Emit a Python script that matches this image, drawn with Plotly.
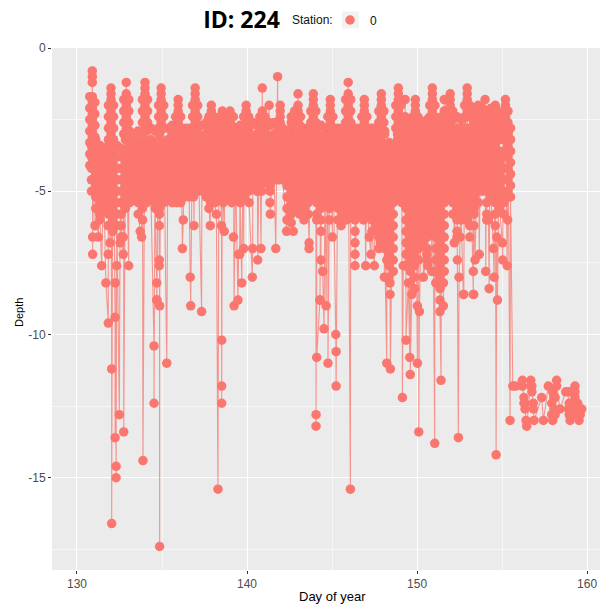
import plotly.graph_objects as go

# Main band of repeated dives: one time stamp (day) with the depths logged around it
column_days = [130.85,131.1,131.35,131.6,131.85,132.1,132.35,132.6,132.85,133.1,133.35,133.6,133.85,134.1,134.35,134.6,134.85,135.1,135.35,135.6,135.85,136.1,136.35,136.6,136.85,137.1,137.35,137.6,137.85,138.1,138.35,138.6,138.85,139.1,139.35,139.6,139.85,140.1,140.35,140.6,140.85,141.1,141.35,141.6,141.85,142.1,142.35,142.6,142.85,143.1,143.35,143.6,143.85,144.1,144.35,144.6,144.85,145.1,145.35,145.6,145.85,146.1,146.35,146.6,146.85,147.1,147.35,147.6,147.85,148.1,148.35,148.6,148.85,149.1,149.35,149.6,149.85,150.1,150.35,150.6,150.85,151.1,151.35,151.6,151.85,152.1,152.35,152.6,152.85,153.1,153.35,153.6,153.85,154.1,154.35,154.6,154.85,155.1,155.35,155.5]
column_depths = [
 [-3.4,-3.8,-4.2,-4.6,-5.0],
 [-3.2,-3.6,-4.0,-4.4,-4.8,-5.2,-5.6],
 [-3.4,-3.8,-4.2,-4.6,-5.0,-5.4,-5.8,-6.0],
 [-3.6,-4.0,-4.4,-4.8,-5.2,-5.6],
 [-3.4,-3.8,-4.2,-4.6,-5.0,-5.4,-5.8,-6.2],
 [-3.2,-3.6,-4.0,-4.4,-4.8,-5.2,-5.6,-6.0,-6.4],
 [-3.4,-3.8,-4.2,-4.6,-5.0,-5.4,-5.8,-6.2],
 [-3.5,-3.8,-4.2,-4.6,-5.0,-5.4,-5.8,-6.2,-6.6],
 [-3.2,-3.6,-4.0,-4.4,-4.8,-5.2,-5.6],
 [-2.9,-3.4,-3.8,-4.2,-4.6,-5.0,-5.4],
 [-3.0,-3.2,-3.6,-4.0,-4.4,-4.8,-5.2],
 [-2.9,-3.4,-3.8,-4.2,-4.6,-5.0,-5.4,-5.8],
 [-3.0,-3.2,-3.6,-4.0,-4.4,-4.8,-5.2,-5.6],
 [-2.9,-3.4,-3.8,-4.2,-4.6,-5.0,-5.4],
 [-2.8,-3.2,-3.6,-4.0,-4.4,-4.8,-5.2],
 [-2.9,-3.4,-3.8,-4.2,-4.6,-5.0,-5.4,-5.6],
 [-3.0,-3.2,-3.6,-4.0,-4.4,-4.8,-5.2,-5.6,-5.8],
 [-2.8,-3.4,-3.8,-4.2,-4.6,-5.0,-5.4],
 [-2.8,-3.2,-3.6,-4.0,-4.4,-4.8,-5.2],
 [-2.7,-3.0,-3.4,-3.8,-4.2,-4.6,-5.0,-5.4],
 [-2.8,-3.2,-3.6,-4.0,-4.4,-4.8,-5.2,-5.4],
 [-2.8,-3.0,-3.4,-3.8,-4.2,-4.6,-5.0,-5.4],
 [-2.8,-3.2,-3.6,-4.0,-4.4,-4.8,-5.2],
 [-2.8,-3.0,-3.4,-3.8,-4.2,-4.6,-5.0,-5.2],
 [-2.8,-3.2,-3.6,-4.0,-4.4,-4.8,-5.2],
 [-2.7,-3.0,-3.4,-3.8,-4.2,-4.6,-5.0],
 [-2.7,-3.2,-3.6,-4.0,-4.4,-4.8,-5.0],
 [-2.6,-3.0,-3.4,-3.8,-4.2,-4.6,-5.0,-5.2],
 [-2.8,-3.2,-3.6,-4.0,-4.4,-4.8,-5.2,-5.4],
 [-2.6,-3.0,-3.4,-3.8,-4.2,-4.6,-5.0,-5.4],
 [-2.7,-3.2,-3.6,-4.0,-4.4,-4.8,-5.2],
 [-2.6,-3.0,-3.4,-3.8,-4.2,-4.6,-5.0,-5.4],
 [-2.8,-3.2,-3.6,-4.0,-4.4,-4.8,-5.2],
 [-2.7,-3.0,-3.4,-3.8,-4.2,-4.6,-5.0,-5.4],
 [-2.8,-3.2,-3.6,-4.0,-4.4,-4.8,-5.2],
 [-2.7,-3.0,-3.4,-3.8,-4.2,-4.6,-5.0,-5.4],
 [-2.8,-3.2,-3.6,-4.0,-4.4,-4.8,-5.2],
 [-2.7,-3.0,-3.4,-3.8,-4.2,-4.6,-5.0],
 [-2.6,-3.2,-3.6,-4.0,-4.4,-4.8],
 [-2.7,-3.0,-3.4,-3.8,-4.2,-4.6,-5.0],
 [-2.6,-3.2,-3.6,-4.0,-4.4,-4.8],
 [-2.6,-3.0,-3.4,-3.8,-4.2,-4.6],
 [-2.7,-3.2,-3.6,-4.0,-4.4,-4.8,-5.0],
 [-2.6,-3.0,-3.4,-3.8,-4.2,-4.6],
 [-2.8,-3.2,-3.6,-4.0,-4.4,-4.6],
 [-2.8,-3.0,-3.4,-3.8,-4.2,-4.6],
 [-3.0,-3.2,-3.6,-4.0,-4.4,-4.8,-5.2,-5.6,-6.0],
 [-2.8,-3.0,-3.4,-3.8,-4.2,-4.6,-5.0,-5.4,-5.8,-6.1],
 [-2.7,-3.2,-3.6,-4.0,-4.4,-4.8,-5.2,-5.6],
 [-2.7,-3.0,-3.4,-3.8,-4.2,-4.6,-5.0,-5.4,-5.8],
 [-2.8,-3.2,-3.6,-4.0,-4.4,-4.8,-5.2,-5.6,-6.0],
 [-2.8,-3.0,-3.4,-3.8,-4.2,-4.6,-5.0,-5.4,-5.8],
 [-2.8,-3.2,-3.6,-4.0,-4.4,-4.8,-5.2],
 [-2.8,-3.0,-3.4,-3.8,-4.2,-4.6,-5.0,-5.4,-5.8,-6.0],
 [-2.7,-3.2,-3.6,-4.0,-4.4,-4.8,-5.2,-5.6,-6.0,-6.4],
 [-2.8,-3.0,-3.4,-3.8,-4.2,-4.6,-5.0,-5.4],
 [-2.8,-3.2,-3.6,-4.0,-4.4,-4.8,-5.2,-5.6,-6.0],
 [-2.8,-3.0,-3.4,-3.8,-4.2,-4.6,-5.0,-5.4],
 [-2.8,-3.2,-3.6,-4.0,-4.4,-4.8,-5.2,-5.6,-6.0],
 [-2.8,-3.0,-3.4,-3.8,-4.2,-4.6,-5.0,-5.4,-5.8],
 [-2.8,-3.2,-3.6,-4.0,-4.4,-4.8,-5.2,-5.6,-6.0],
 [-2.8,-3.0,-3.4,-3.8,-4.2,-4.6,-5.0,-5.4,-5.8],
 [-2.8,-3.2,-3.6,-4.0,-4.4,-4.8,-5.2,-5.6,-6.0,-6.4],
 [-2.8,-3.0,-3.4,-3.8,-4.2,-4.6,-5.0,-5.4,-5.8],
 [-2.8,-3.2,-3.6,-4.0,-4.4,-4.8,-5.2,-5.6,-6.0],
 [-2.8,-3.0,-3.4,-3.8,-4.2,-4.6,-5.0,-5.4,-5.8],
 [-2.8,-3.2,-3.6,-4.0,-4.4,-4.8,-5.2,-5.6,-6.0,-6.4],
 [-2.8,-3.0,-3.4,-3.8,-4.2,-4.6,-5.0,-5.4,-5.8,-6.2],
 [-2.8,-3.2,-3.6,-4.0,-4.4,-4.8,-5.2,-5.6,-6.0,-6.4,-6.8],
 [-2.9,-3.0,-3.4,-3.8,-4.2,-4.6,-5.0,-5.4,-5.8,-6.2,-6.6,-7.0],
 [-3.3,-3.6,-4.0,-4.4,-4.8,-5.2,-5.6,-6.0,-6.4,-6.8,-7.2,-7.6,-8.0],
 [-3.4,-3.8,-4.2,-4.6,-5.0,-5.4,-5.8,-6.2,-6.6,-7.0,-7.4,-7.8],
 [-3.0,-3.2,-3.6,-4.0,-4.4,-4.8,-5.2],
 [-2.6,-3.0,-3.4,-3.8,-4.2,-4.6,-5.0,-5.4],
 [-2.8,-3.2,-3.6,-4.0,-4.4,-4.8,-5.2,-5.6,-6.0,-6.4,-6.8,-7.2,-7.6],
 [-2.6,-3.0,-3.4,-3.8,-4.2,-4.6,-5.0,-5.4,-5.8,-6.2,-6.6,-7.0,-7.4,-7.8,-8.2],
 [-2.6,-2.8,-3.2,-3.6,-4.0,-4.4,-4.8,-5.2,-5.6,-6.0,-6.4,-6.8,-7.2,-7.6,-8.0,-8.4],
 [-2.5,-2.8,-3.0,-3.4,-3.8,-4.2,-4.6,-5.0,-5.4,-5.8,-6.2,-6.6,-7.0,-7.4],
 [-2.6,-2.8,-3.2,-3.6,-4.0,-4.4,-4.8,-5.2,-5.6,-6.0,-6.4,-6.8],
 [-2.5,-2.8,-3.0,-3.4,-3.8,-4.2,-4.6,-5.0,-5.4,-5.8,-6.2,-6.6,-7.0,-7.4],
 [-2.6,-2.8,-3.2,-3.6,-4.0,-4.4,-4.8,-5.2,-5.6,-6.0,-6.4],
 [-2.6,-2.8,-3.0,-3.4,-3.8,-4.2,-4.6,-5.0,-5.4,-5.8,-6.2,-6.6,-7.0,-7.4,-7.8,-8.2],
 [-2.6,-2.8,-3.2,-3.6,-4.0,-4.4,-4.8,-5.2,-5.6,-6.0,-6.4,-6.8,-7.2,-7.6,-8.0,-8.4,-8.8],
 [-2.5,-2.8,-3.0,-3.4,-3.8,-4.2,-4.6,-5.0,-5.4,-5.8,-6.2,-6.6,-7.0,-7.4,-7.8],
 [-2.5,-2.8,-3.2,-3.6,-4.0,-4.4,-4.8,-5.2],
 [-2.5,-2.8,-3.0,-3.4,-3.8,-4.2,-4.6,-5.0,-5.4,-5.8],
 [-2.4,-2.8,-3.2,-3.6,-4.0,-4.4,-4.8,-5.2,-5.6,-6.0,-6.4,-6.6],
 [-2.5,-2.8,-3.0,-3.4,-3.8,-4.2,-4.6,-5.0,-5.4,-5.8,-6.0],
 [-2.4,-2.8,-3.2,-3.6,-4.0,-4.4,-4.8,-5.2,-5.6,-6.0],
 [-2.4,-2.8,-3.0,-3.4,-3.8,-4.2,-4.6,-5.0,-5.4,-5.8,-6.2,-6.6],
 [-2.1,-2.4,-2.6,-3.0,-3.2,-3.6,-4.0,-4.4,-4.8,-5.2,-5.6,-5.8,-6.2],
 [-2.2,-2.4,-2.8,-3.0,-3.4,-3.8,-4.2,-4.6,-5.0,-5.4],
 [-2.1,-2.4,-2.6,-3.0,-3.2,-3.6,-4.0,-4.4,-4.8,-5.0],
 [-2.2,-2.4,-2.8,-3.0,-3.4,-3.8,-4.2,-4.6,-5.0,-5.4,-5.8,-6.0],
 [-2.1,-2.4,-2.6,-3.0,-3.2,-3.6,-4.0,-4.4,-4.8,-5.2],
 [-2.1,-2.4,-2.8,-3.0,-3.4,-3.8,-4.2,-4.6,-5.0,-5.4,-5.8,-6.2],
 [-2.4,-2.6,-3.0,-3.2,-3.6,-4.0,-4.4,-4.8,-5.2,-5.6],
 [-2.8,-3.0,-3.2,-3.6,-3.8,-4.2,-4.6,-5.0,-5.4,-5.8],
 [-2.8,-3.0,-3.4,-3.8,-4.2,-4.6,-5.0,-5.2],
 [-2.8,-3.2,-3.6,-4.0,-4.4,-4.8,-5.2],
]

# Daily shallow peaks: the stack of depths climbing to each top
peak_days = [130.9,132.0,132.9,134.0,134.95,135.95,136.95,137.9,138.55,139.0,139.95,140.9,141.3,141.8,141.95,143.0,142.6,143.9,144.9,145.95,146.9,147.9,148.9,149.3,149.9,150.9,151.6,151.95,152.95,153.6,154.0,154.6,155.2]
peak_depths = [
 [-0.8,-1.0,-1.2,-1.7,-1.9,-2.1,-2.3,-2.5,-2.7,-2.9,-3.1,-3.3,-3.5],
 [-1.4,-1.6,-1.8,-2.0,-2.2,-2.4,-2.6,-2.8,-3.0,-3.2,-3.4],
 [-1.2,-1.6,-1.8,-2.0,-2.2,-2.4,-2.6,-2.8,-3.0,-3.2],
 [-1.2,-1.4,-1.6,-1.8,-2.0,-2.2,-2.4,-2.6,-2.8],
 [-1.4,-1.6,-1.8,-2.0,-2.2,-2.4,-2.6,-2.8],
 [-1.8,-2.0,-2.2,-2.4,-2.6],
 [-1.4,-1.6,-1.8,-2.0,-2.2,-2.4,-2.6,-2.8],
 [-2.0,-2.2,-2.4,-2.6],
 [-2.2,-2.4,-2.6],
 [-2.2,-2.4,-2.6],
 [-2.0,-2.2,-2.4,-2.6],
 [-1.4,-2.2,-2.4,-2.6],
 [-2.0,-2.6],
 [-1.0,-2.6],
 [-2.0,-2.2,-2.4,-2.6],
 [-1.6,-2.0,-2.2,-2.4,-2.6],
 [-2.4,-2.6],
 [-1.6,-1.8,-2.0,-2.2,-2.4,-2.6],
 [-1.8,-2.0,-2.2,-2.4,-2.6],
 [-1.2,-1.6,-1.8,-2.0,-2.2,-2.4,-2.6],
 [-1.8,-2.0,-2.2,-2.4,-2.6],
 [-1.6,-1.8,-2.0,-2.2,-2.4,-2.6],
 [-1.4,-1.6,-1.8,-2.0,-2.2,-2.4,-2.6,-2.8,-3.0],
 [-1.8,-2.4],
 [-1.8,-2.0,-2.2,-2.4],
 [-1.4,-1.6,-1.8,-2.0,-2.2,-2.4],
 [-1.8,-2.2,-2.4],
 [-1.6,-1.8,-2.0,-2.2,-2.4],
 [-1.4,-1.6,-1.8,-2.0,-2.2,-2.4],
 [-2.0,-2.2],
 [-1.8,-2.2],
 [-2.0,-2.2],
 [-1.8,-2.0,-2.2,-2.4,-2.6],
]
# Flanks that widen the base of each peak
flank_days = [130.75,131.05,131.85,132.15,132.75,133.05,133.85,134.15,134.8,135.1,135.8,136.1,136.8,137.1,137.75,138.05,138.4,138.75,139.2,139.8,140.1,140.75,141.05,142.8,143.15,143.75,144.05,144.75,145.05,145.8,146.1,146.75,147.05,147.75,148.05,148.75,149.05,149.75,150.05,150.75,151.05,151.45,151.8,152.1,152.8,153.1,153.75,154.3,155.05,155.35]
flank_depths = [
 [-1.7,-2.1,-2.5,-2.9,-3.3,-3.7,-4.1],[-1.9,-2.3,-2.7,-3.1],[-2.0,-2.4,-2.8,-3.2],[-2.0,-2.4,-2.8,-3.2],
 [-1.8,-2.2,-2.6,-3.0],[-1.8,-2.2,-2.6,-3.0],[-1.8,-2.2,-2.6],[-1.8,-2.2,-2.6],[-2.0,-2.4,-2.8],[-2.0,-2.4,-2.8],
 [-2.4,-2.8],[-2.4,-2.8],[-2.0,-2.4,-2.8],[-2.0,-2.4,-2.8],[-2.4,-2.8],[-2.4,-2.8],[-2.4,-2.8],[-2.4,-2.6],[-2.4,-2.8],
 [-2.4,-2.8],[-2.4,-2.8],[-2.4,-2.8],[-2.4,-2.8],[-2.2,-2.6],[-2.4,-2.8],[-2.2,-2.6],[-2.2,-2.6],[-2.4,-2.8],[-2.4,-2.8],
 [-1.8,-2.2,-2.6],[-1.8,-2.2,-2.6],[-2.4,-2.8],[-2.4,-2.8],[-2.2,-2.6],[-2.2,-2.6],[-2.0,-2.4,-2.8],[-2.0,-2.4,-2.8],
 [-2.4,-2.6],[-2.4,-2.6],[-2.0,-2.4],[-2.0,-2.4],[-2.4,-2.6],[-2.2,-2.4],[-2.2,-2.4],[-2.0,-2.4],[-2.0,-2.4],[-2.2,-2.4],[-2.2],[-2.2,-2.6],[-2.2,-2.6,-3.0],
]

# Isolated deep excursions
spike_days = [131.84,132.24,132.04,132.49,132.75,132.24,132.3,132.3,132.04,133.88,134.53,134.53,135.28,134.86,134.86,134.7,136.69,137.33,138.29,138.51,138.51,138.51,139.24,139.47,144.29,144.65,144.53,144.1,144.76,145.22,145.24,145.24,144.06,144.06,146.08,148.22,148.43,149.35,149.57,149.6,149.14,150.02,150.1,151.04,151.41,152.43,154.65,152.75,153.33,
 130.92,131.45,131.7,132.25,132.33,133.04,131.84,132.72,131.94,130.92,131.25,131.06,131.84,132.72,132.53,133.72,133.8,133.86,134.84,134.84,134.84,134.69,134.69,136.25,136.88,136.2,136.66,137.76,137.84,138.2,138.5,138.66,139.2,139.5,
 139.8,139.57,139.69,140.33,140.31,140.63,140.82,141.69,140.12,140.86,141.35,141.37,142.33,142.72,143.65,143.65,145.02,144.35,144.45,144.29,145.53,146.35,146.35,146.35,146.98,147.49,147.29,147.19,147.76,147.76,148.22,148.08,148.41,148.41,149.19,
 149.29,149.49,149.69,150.02,150.14,150.57,150.63,150.86,150.37,151.55,151.35,151.55,152.37,152.47,152.72,153.31,153.31,153.41,153.66,154.04,154.24,154.53,154.73,154.49,154.69,155.02,155.04,155.3,155.33,154.2,152.53,152.96,152.19]
spike_depths = [-9.6,-9.4,-11.2,-12.8,-13.4,-13.6,-14.6,-15.0,-16.6,-14.4,-10.4,-12.4,-11.0,-17.4,-9.0,-8.8,-9.0,-9.2,-15.4,-10.2,-11.8,-12.4,-9.0,-8.8,-8.8,-9.0,-9.8,-10.8,-11.0,-10.0,-10.6,-11.8,-12.8,-13.2,-15.4,-11.0,-11.2,-10.2,-10.8,-11.4,-12.2,-11.0,-13.4,-13.8,-11.6,-13.6,-14.2,-8.6,-8.6,
 -7.2,-7.6,-8.2,-8.2,-7.6,-7.6,-7.2,-7.2,-6.8,-6.6,-6.6,-6.2,-6.2,-6.6,-6.8,-6.4,-6.6,-6.0,-6.2,-7.4,-7.6,-8.2,-8.8,-6.0,-6.2,-7.0,-8.0,-5.6,-6.2,-5.8,-6.2,-6.4,-6.6,-7.2,
 -7.0,-7.2,-8.2,-7.0,-8.0,-7.4,-7.0,-7.0,-5.4,-5.0,-5.4,-5.8,-6.4,-6.4,-6.8,-7.0,-6.6,-7.4,-7.8,-8.8,-6.2,-6.8,-7.2,-7.6,-7.6,-7.6,-7.2,-6.6,-6.6,-7.0,-7.4,-8.0,-8.2,-8.6,-7.6,
 -7.6,-8.2,-8.6,-9.0,-9.2,-7.2,-7.6,-7.8,-8.0,-8.2,-9.2,-9.0,-7.4,-8.0,-8.6,-8.6,-7.8,-7.4,-7.2,-7.8,-8.4,-8.0,-8.8,-7.0,-6.6,-6.8,-7.4,-7.6,-6.0,-6.0,-6.6,-6.0,-6.8]

# Final days at about 12-13 m
tail_days = [155.47,155.63,155.8,156.2,156.2,156.29,156.29,156.35,156.35,156.41,156.45,156.69,156.69,156.75,156.75,156.84,156.84,156.88,157.33,157.43,157.72,157.92,157.92,157.98,157.98,158.05,158.05,158.12,158.12,158.21,158.21,158.41,158.75,158.9,158.9,158.95,158.95,159.0,159.1,159.1,159.1,159.29,159.29,159.29,159.29,159.35,159.35,159.45,159.53,159.69,159.6]
tail_depths = [-13.0,-11.8,-11.8,-11.6,-11.8,-12.2,-12.4,-12.4,-12.6,-13.0,-13.2,-11.6,-11.8,-11.8,-12.0,-12.4,-12.6,-13.0,-12.2,-13.0,-11.8,-12.4,-12.8,-12.0,-13.0,-12.2,-12.6,-12.2,-12.8,-11.6,-11.8,-12.6,-12.0,-12.0,-12.6,-12.4,-12.8,-13.0,-12.0,-12.4,-12.8,-11.8,-12.0,-12.2,-12.4,-12.6,-12.8,-12.4,-13.0,-12.6,-12.8]

x_ticks = [130, 140, 150, 160]
x_minor = [135, 145, 155]
y_ticks = [0, -5, -10, -15]
y_labels = ["0", "-5", "-10", "-15"]
y_minor = [-2.5, -7.5, -12.5, -17.5]

records = []
for days, depth_lists in ((column_days, column_depths), (peak_days, peak_depths), (flank_days, flank_depths)):
    assert len(days) == len(depth_lists), (len(days), len(depth_lists))
    for day, depths in zip(days, depth_lists):
        records += [(day, depth) for depth in depths]
assert len(spike_days) == len(spike_depths) and len(tail_days) == len(tail_depths)
records += list(zip(spike_days, spike_depths)) + list(zip(tail_days, tail_depths))
records.sort(key=lambda r: r[0])

COLOR = "#FB766E"
fig = go.Figure()
fig.add_trace(go.Scatter(
    x=[r[0] for r in records], y=[r[1] for r in records], mode="lines+markers",
    line=dict(color="rgba(248,118,109,0.75)", width=1.1),
    marker=dict(color=COLOR, size=9.5, line=dict(width=0)),
    showlegend=False,
))
fig.add_trace(go.Scatter(x=[None], y=[None], mode="markers", name="0",
                         marker=dict(color=COLOR, size=9.5), showlegend=True))
font = "Liberation Sans"
PW, PH = 548, 522
fig.update_layout(
    width=601, height=608, margin=dict(l=52, r=1, t=48, b=38, autoexpand=False),
    paper_bgcolor="white", plot_bgcolor="#EBEBEB",
    font=dict(family=font, size=12, color="#111"),
    title=dict(text="<b>ID: 224</b>", x=241.5/601, xanchor="center", xref="container", y=1-20/608, yanchor="middle",
               font=dict(family="Open Sans", size=23, color="black")),
    legend=dict(orientation="h", x=(330-52)/PW, xanchor="left", y=1+(48-20)/PH, yanchor="middle",
                font=dict(size=12, color="#111"), bgcolor="rgba(0,0,0,0)", itemwidth=30),
    annotations=[
        dict(text="Station:", x=(290-52)/PW, y=1+(48-20)/PH, xref="paper", yref="paper",
             xanchor="left", yanchor="middle", showarrow=False, font=dict(size=12, color="#111")),
        dict(text="Day of year", x=(332-52)/PW, y=1-(596.5-48)/PH, xref="paper", yref="paper",
             xanchor="center", yanchor="middle", showarrow=False, font=dict(size=13, color="black")),
        dict(text="Depth", x=(19-52)/PW, y=1-(313-48)/PH, xref="paper", yref="paper", textangle=-90,
             xanchor="center", yanchor="middle", showarrow=False, font=dict(size=11, color="black")),
    ],
    shapes=[dict(type="rect", xref="paper", yref="paper", x0=(342-52)/PW, x1=(359-52)/PW,
                 y0=1+(48-28.5)/PH, y1=1+(48-11.5)/PH, fillcolor="#F2F2F2", line=dict(width=0), layer="below")],
    xaxis=dict(range=[128.53, 160.76], tickvals=x_ticks, ticks="outside", ticklen=3, tickcolor="#333",
               tickfont=dict(color="#4D4D4D", size=12), gridcolor="white", gridwidth=1.3, zeroline=False,
               showline=False,
               minor=dict(tickvals=x_minor, showgrid=True, gridcolor="#F6F6F6", gridwidth=0.7, ticks="")),
    yaxis=dict(range=[-18.22, 0], tickvals=y_ticks, ticktext=y_labels, ticks="outside", ticklen=3, tickcolor="#333",
               tickfont=dict(color="#4D4D4D", size=12), gridcolor="white", gridwidth=1.3, zeroline=False,
               showline=False,
               minor=dict(tickvals=y_minor, showgrid=True, gridcolor="#F6F6F6", gridwidth=0.7, ticks="")),
)
fig.write_html("out.html", config=dict(displayModeBar=False), post_script="document.body.style.margin='0';")
